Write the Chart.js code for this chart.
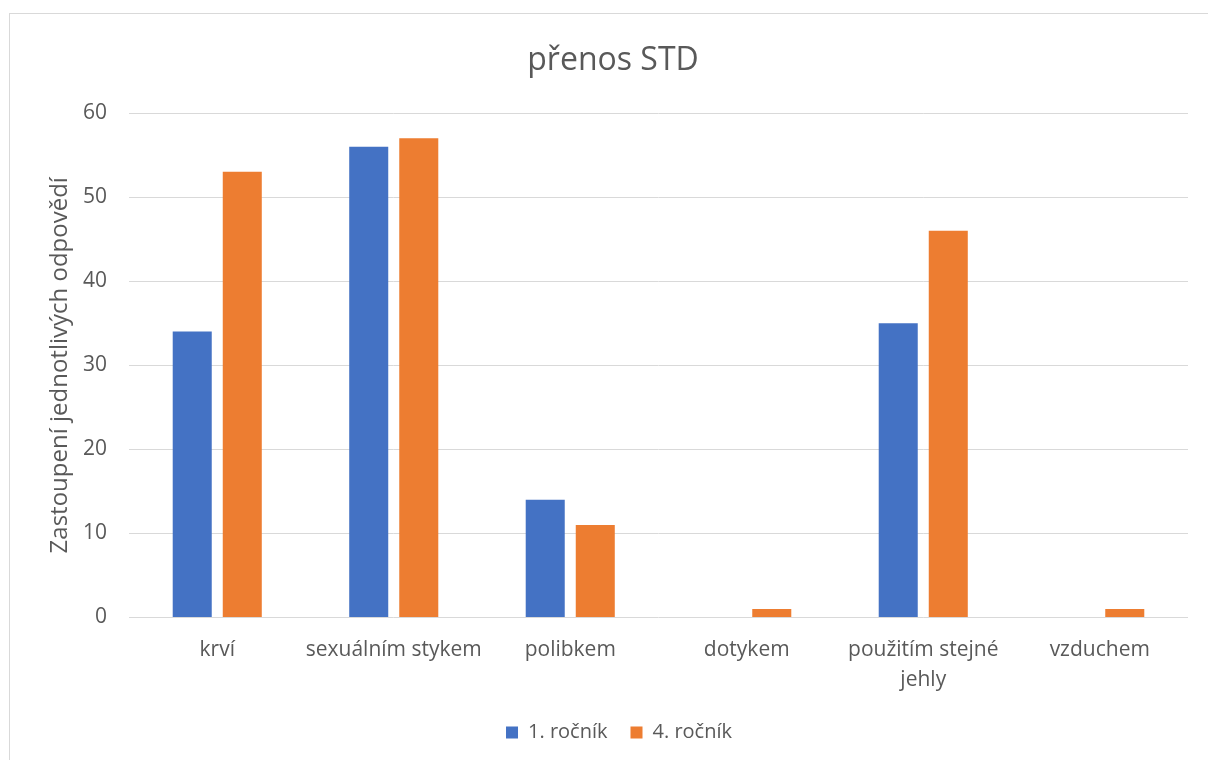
<!DOCTYPE html>
<html>
<head>
<meta charset="utf-8">
<script src="https://cdn.jsdelivr.net/npm/chart.js@4"></script>
<style>
  html, body { margin: 0; padding: 0; background: #ffffff; }
  #wrap { position: relative; width: 1208px; height: 760px; overflow: hidden; }
  #frame { position: absolute; left: 9px; top: 13px; width: 1300px; height: 900px; border: 1px solid #d9d9d9; box-sizing: border-box; }
  canvas { position: absolute; left: 0; top: 0; }
</style>
</head>
<body>
<div id="wrap">
  <div id="frame"></div>
  <canvas id="c" width="1208" height="760"></canvas>
</div>
<script>
const categories = ["krví", "sexuálním stykem", "polibkem", "dotykem", ["použitím stejné", "jehly"], "vzduchem"];
const seriesNames = ["1. ročník", "4. ročník"];
const rocnik1 = [34, 56, 14, 0, 35, 0];
const rocnik4 = [53, 57, 11, 1, 46, 1];
const yTicks = [0, 10, 20, 30, 40, 50, 60];

const textColor = "#595959";
const fontFamily = "'Open Sans', 'Noto Sans', sans-serif";

// The chart frame is wider than the visible canvas, so the title and legend
// sit centred a little to the right of the canvas centre.
const frameOffset = {
  id: "frameOffset",
  afterLayout(chart) {
    if (chart.titleBlock) { chart.titleBlock.left += 14; chart.titleBlock.right += 14; }
    if (chart.legend) { chart.legend.left += 20; chart.legend.right += 20; }
  }
};

new Chart(document.getElementById("c"), {
  type: "bar",
  data: {
    labels: categories,
    datasets: [
      { label: seriesNames[0], data: rocnik1, backgroundColor: "#4472c4", barPercentage: 0.78, categoryPercentage: 0.567 },
      { label: seriesNames[1], data: rocnik4, backgroundColor: "#ed7d31", barPercentage: 0.78, categoryPercentage: 0.567 }
    ]
  },
  plugins: [frameOffset],
  options: {
    responsive: false,
    animation: false,
    layout: { padding: { left: 10, right: 20, top: 0, bottom: 7.5 } },
    plugins: {
      title: {
        display: true,
        text: "přenos STD",
        color: textColor,
        font: { family: fontFamily, size: 32, weight: "normal" },
        padding: { top: 42, bottom: 32.6 }
      },
      legend: {
        position: "bottom",
        labels: {
          color: textColor,
          font: { family: fontFamily, size: 20 },
          boxWidth: 12,
          boxHeight: 12,
          padding: 23
        }
      },
      tooltip: { enabled: false }
    },
    scales: {
      x: {
        grid: { display: false },
        border: { display: false },
        ticks: { color: textColor, font: { family: fontFamily, size: 21, lineHeight: 1.45 }, padding: 9, maxRotation: 0, autoSkip: false },
        afterFit: (s) => { s.height = 82; }
      },
      y: {
        min: 0,
        max: 60,
        afterBuildTicks: (s) => { s.ticks = yTicks.map(v => ({ value: v })); },
        grid: { color: "#d9d9d9", lineWidth: 1, drawTicks: false },
        border: { display: false },
        ticks: { color: textColor, font: { family: fontFamily, size: 21 }, padding: 22 },
        title: {
          display: true,
          text: "Zastoupení jednotlivých odpovědí",
          color: textColor,
          font: { family: fontFamily, size: 24 },
          padding: { top: 35.6, bottom: 0 }
        },
        afterFit: (s) => { s.width = 119; }
      }
    }
  }
});
</script>
</body>
</html>
